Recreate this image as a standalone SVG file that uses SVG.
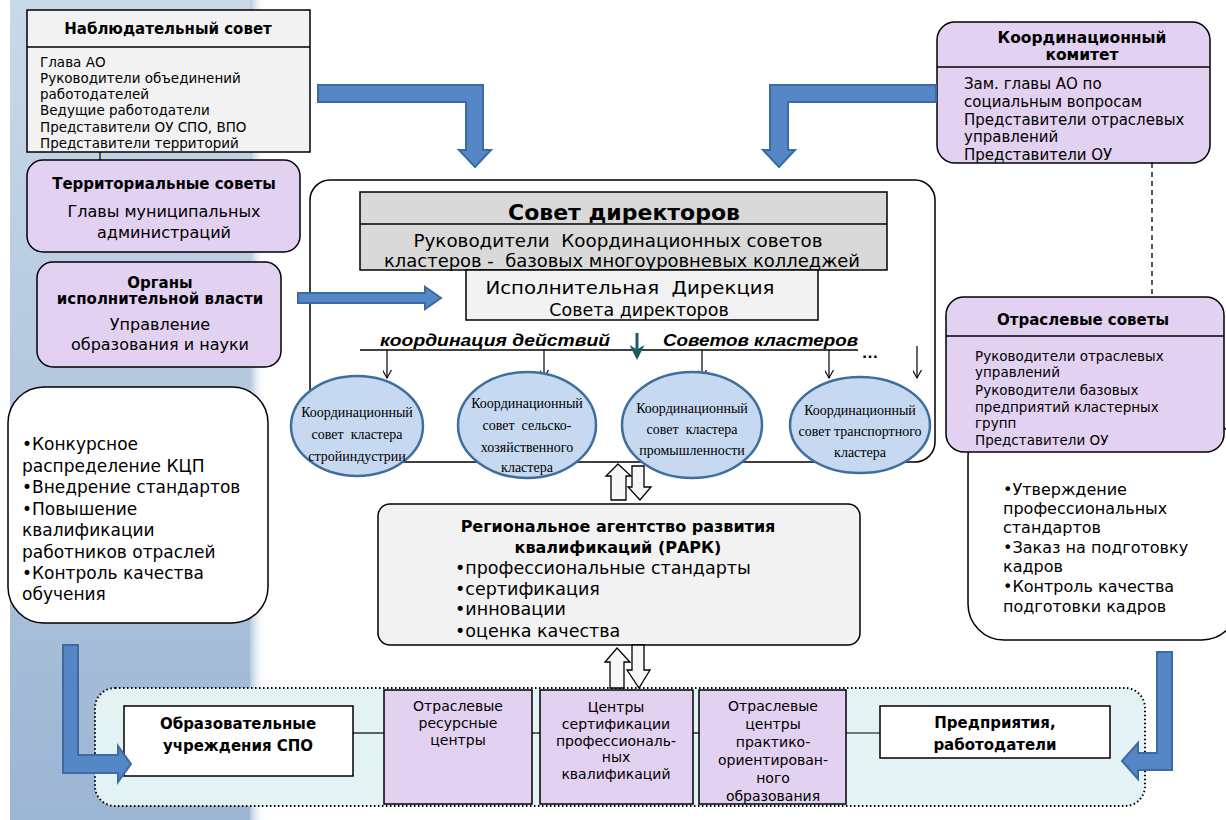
<svg xmlns="http://www.w3.org/2000/svg" width="1226" height="820" viewBox="0 0 1226 820">
<defs>
  <linearGradient id="bg" x1="0" y1="0" x2="0" y2="1">
    <stop offset="0" stop-color="#cad9e9"/>
    <stop offset="1" stop-color="#9cb5d3"/>
  </linearGradient>
  <linearGradient id="bgedge" x1="0" y1="0" x2="1" y2="0">
    <stop offset="0" stop-color="#b4c8de"/>
    <stop offset="1" stop-color="#ffffff" stop-opacity="0"/>
  </linearGradient>
  <marker id="ah" viewBox="0 0 10 10" refX="9" refY="5" markerWidth="9" markerHeight="9" orient="auto" markerUnits="userSpaceOnUse">
    <path d="M0,0 L9,5 L0,10" fill="none" stroke="#000" stroke-width="1.2"/>
  </marker>
  <marker id="ahT" viewBox="0 0 10 10" refX="8" refY="5" markerWidth="5" markerHeight="5" orient="auto">
    <path d="M0,0 L10,5 L0,10 L3,5 Z" fill="#215968"/>
  </marker>
</defs>
<style>
  text{font-family:"DejaVu Sans","Liberation Sans",sans-serif;fill:#000}
  .t{font-size:15px;font-weight:bold;text-anchor:middle}
  .s{font-size:13.5px}
  .m{font-size:16px}
  .l{font-size:17.5px}
  .ll{font-size:17px}
  .c{text-anchor:middle}
  .b{font-size:14px;text-anchor:middle}
  .it{font-family:"Liberation Sans",Arial,sans-serif;font-size:17px;font-weight:bold;font-style:italic}
  .ov{font-family:"Liberation Serif","Times New Roman",serif;font-size:14px;text-anchor:middle}
  .box{stroke:#000;stroke-width:1.5}
  .purple{fill:#e3d1f1}
  .gray{fill:#f2f2f2}
  .blue{fill:#5587c6;stroke:#3b6aa5;stroke-width:2}
  .hollow{fill:#f7f7f7;stroke:#000;stroke-width:1.3}
  .oval{fill:#c6d9f1;stroke:#3f6e9e;stroke-width:2.5}
  .thin{stroke:#000;stroke-width:1.2;fill:none}
</style>

<!-- background panel -->
<rect x="10" y="0" width="240" height="820" fill="url(#bg)"/>
<rect x="250" y="0" width="16" height="820" fill="url(#bgedge)"/>

<g id="nablyud">
  <rect class="box gray" x="27" y="10" width="283" height="142"/>
  <line x1="27" y1="47" x2="310" y2="47" stroke="#000" stroke-width="1.5"/>
  <text class="t" x="168" y="34">Наблюдательный совет</text>
  <text class="s" x="40" y="67">Глава АО</text>
  <text class="s" x="40" y="83">Руководители объединений</text>
  <text class="s" x="40" y="99">работодателей</text>
  <text class="s" x="40" y="115">Ведущие работодатели</text>
  <text class="s" x="40" y="132">Представители ОУ СПО, ВПО</text>
  <text class="s" x="40" y="148">Представители территорий</text>
</g>

<g id="territ">
  <rect class="box purple" x="27" y="160" width="273" height="92" rx="16" stroke-width="2"/>
  <text class="t" x="164" y="189">Территориальные советы</text>
  <text class="m c" x="164" y="217">Главы муниципальных</text>
  <text class="m c" x="164" y="238">администраций</text>
</g>

<g id="organy">
  <rect class="box purple" x="37" y="262" width="244" height="105" rx="16" stroke-width="2"/>
  <text class="t" x="160" y="288">Органы</text>
  <text class="t" x="160" y="304">исполнительной власти</text>
  <text class="m c" x="160" y="330">Управление</text>
  <text class="m c" x="160" y="350">образования и науки</text>
</g>

<g id="leftlist">
  <rect class="box" fill="#fff" x="8" y="387" width="260" height="236" rx="36"/>
  <text class="ll" x="22" y="450">•Конкурсное</text>
  <text class="ll" x="22" y="472">распределение КЦП</text>
  <text class="ll" x="22" y="493">•Внедрение стандартов</text>
  <text class="ll" x="22" y="515">•Повышение</text>
  <text class="ll" x="22" y="536">квалификации</text>
  <text class="ll" x="22" y="558">работников отраслей</text>
  <text class="ll" x="22" y="579">•Контроль качества</text>
  <text class="ll" x="22" y="600">обучения</text>
</g>

<g id="container">
  <rect class="box" fill="#fff" x="310" y="180" width="625" height="282" rx="20"/>
</g>

<g id="sovet">
  <rect class="box" fill="#d9d9d9" x="360" y="192" width="527" height="78"/>
  <line x1="360" y1="224" x2="887" y2="224" stroke="#000" stroke-width="1.5"/>
  <text x="624" y="220" style="font-size:22px;font-weight:bold;text-anchor:middle">Совет директоров</text>
  <text class="l c" x="618" y="247" xml:space="preserve" textLength="409" lengthAdjust="spacingAndGlyphs">Руководители  Координационных советов</text>
  <text class="l c" x="622" y="267" xml:space="preserve" textLength="476" lengthAdjust="spacingAndGlyphs">кластеров -  базовых многоуровневых колледжей</text>
</g>

<g id="direkcia">
  <rect class="box gray" x="466" y="270" width="352" height="50"/>
  <text class="l c" x="630" y="294" xml:space="preserve" textLength="289" lengthAdjust="spacingAndGlyphs">Исполнительная  Дирекция</text>
  <text class="l c" x="639" y="316">Совета директоров</text>
</g>

<g id="coord">
  <text class="it" x="380" y="346" textLength="230" lengthAdjust="spacingAndGlyphs">координация действий</text>
  <text class="it" x="663" y="346" textLength="195" lengthAdjust="spacingAndGlyphs">Советов кластеров</text>
  <text x="870" y="358" style="font-family:'Liberation Sans',Arial,sans-serif;font-size:17px;font-weight:bold;text-anchor:middle">…</text>
  <line x1="360" y1="350" x2="858" y2="350" stroke="#000" stroke-width="1.3"/>
  <line x1="637" y1="333" x2="637" y2="357" stroke="#215968" stroke-width="3" marker-end="url(#ahT)"/>
  <line class="thin" x1="387" y1="350" x2="387" y2="378" marker-end="url(#ah)"/>
  <line class="thin" x1="544" y1="350" x2="544" y2="378" marker-end="url(#ah)"/>
  <line class="thin" x1="702" y1="350" x2="702" y2="378" marker-end="url(#ah)"/>
  <line class="thin" x1="829" y1="350" x2="829" y2="378" marker-end="url(#ah)"/>
  <line class="thin" x1="917" y1="346" x2="917" y2="378" marker-end="url(#ah)"/>
</g>

<g id="oval1">
  <ellipse class="oval" cx="357" cy="426" rx="66" ry="50"/>
  <text class="ov" x="357" y="417">Координационный</text>
  <text class="ov" x="357" y="439" xml:space="preserve">совет  кластера</text>
  <text class="ov" x="357" y="461">стройиндустрии</text>
</g>
<g id="oval2">
  <ellipse class="oval" cx="527" cy="425" rx="69" ry="53"/>
  <text class="ov" x="527" y="408">Координационный</text>
  <text class="ov" x="527" y="430" xml:space="preserve">совет  сельско-</text>
  <text class="ov" x="527" y="452">хозяйственного</text>
  <text class="ov" x="527" y="472">кластера</text>
</g>
<g id="oval3">
  <ellipse class="oval" cx="692" cy="425" rx="70" ry="53"/>
  <text class="ov" x="692" y="413">Координационный</text>
  <text class="ov" x="692" y="434" xml:space="preserve">совет  кластера</text>
  <text class="ov" x="692" y="455">промышленности</text>
</g>
<g id="oval4">
  <ellipse class="oval" cx="860" cy="425" rx="70" ry="48"/>
  <text class="ov" x="860" y="415">Координационный</text>
  <text class="ov" x="860" y="436">совет транспортного</text>
  <text class="ov" x="860" y="457">кластера</text>
</g>

<g id="rark">
  <rect class="box gray" x="378" y="504" width="482" height="141" rx="12"/>
  <text class="t" x="618" y="532" style="font-size:16px">Региональное агентство развития</text>
  <text class="t" x="618" y="553" style="font-size:16px">квалификаций (РАРК)</text>
  <text class="l" x="455" y="574">•профессиональные стандарты</text>
  <text class="l" x="455" y="595">•сертификация</text>
  <text class="l" x="455" y="615">•инновации</text>
  <text class="l" x="455" y="637">•оценка качества</text>
</g>

<g id="komitet">
  <rect class="box purple" x="937" y="22" width="273" height="141" rx="18" stroke-width="2"/>
  <line x1="937" y1="67" x2="1210" y2="67" stroke="#000" stroke-width="1.5"/>
  <text class="t" x="1082" y="43" style="font-size:15.5px">Координационный</text>
  <text class="t" x="1082" y="60" style="font-size:15.5px">комитет</text>
  <text x="964" y="89" style="font-size:15px">Зам. главы АО по</text>
  <text x="964" y="107" style="font-size:15px">социальным вопросам</text>
  <text x="964" y="125" style="font-size:15px">Представители отраслевых</text>
  <text x="964" y="142" style="font-size:15px">управлений</text>
  <text x="964" y="160" style="font-size:15px">Представители ОУ</text>
</g>

<g id="rightlist">
  <rect class="box" fill="#fff" x="968" y="420" width="270" height="220" rx="36"/>
  <text class="m" x="1003" y="495">•Утверждение</text>
  <text class="m" x="1003" y="514">профессиональных</text>
  <text class="m" x="1003" y="533">стандартов</text>
  <text class="m" x="1003" y="553">•Заказ на подготовку</text>
  <text class="m" x="1003" y="572">кадров</text>
  <text class="m" x="1003" y="592">•Контроль качества</text>
  <text class="m" x="1003" y="612">подготовки кадров</text>
</g>

<g id="otrsovety">
  <rect class="box purple" x="946" y="297" width="278" height="155" rx="18" stroke-width="2"/>
  <line x1="946" y1="336" x2="1224" y2="336" stroke="#000" stroke-width="1.5"/>
  <text class="t" x="1083" y="325">Отраслевые советы</text>
  <text class="s" x="975" y="361">Руководители отраслевых</text>
  <text class="s" x="975" y="377">управлений</text>
  <text class="s" x="975" y="395">Руководители базовых</text>
  <text class="s" x="975" y="412">предприятий кластерных</text>
  <text class="s" x="975" y="428">групп</text>
  <text class="s" x="975" y="445">Представители ОУ</text>
</g>

<g id="bottom">
  <rect x="95" y="688" width="1050" height="118" rx="20" fill="#e3f3f3" stroke="#000" stroke-width="2" stroke-dasharray="1.5,2.5"/>
  <line class="thin" x1="353" y1="733" x2="384" y2="733"/>
  <line class="thin" x1="532" y1="733" x2="540" y2="733"/>
  <line class="thin" x1="693" y1="733" x2="699" y2="733"/>
  <line class="thin" x1="846" y1="733" x2="880" y2="733"/>
</g>

<g id="ou_spo">
  <rect class="box" fill="#fff" x="124" y="706" width="229" height="70"/>
  <text class="t" x="238" y="729">Образовательные</text>
  <text class="t" x="238" y="751">учреждения СПО</text>
</g>
<g id="resurs">
  <rect class="box purple" x="384" y="690" width="148" height="114"/>
  <text class="b" x="458" y="711">Отраслевые</text>
  <text class="b" x="458" y="728">ресурсные</text>
  <text class="b" x="458" y="745">центры</text>
</g>
<g id="sertif">
  <rect class="box purple" x="540" y="690" width="153" height="114"/>
  <text class="b" x="616" y="712">Центры</text>
  <text class="b" x="616" y="729">сертификации</text>
  <text class="b" x="616" y="746">профессиональ-</text>
  <text class="b" x="616" y="762">ных</text>
  <text class="b" x="616" y="779">квалификаций</text>
</g>
<g id="praktik">
  <rect class="box purple" x="699" y="690" width="147" height="114"/>
  <text class="b" x="773" y="711">Отраслевые</text>
  <text class="b" x="773" y="729">центры</text>
  <text class="b" x="773" y="747">практико-</text>
  <text class="b" x="773" y="765">ориентирован-</text>
  <text class="b" x="773" y="783">ного</text>
  <text class="b" x="773" y="801">образования</text>
</g>
<g id="predpr">
  <rect class="box" fill="#fff" x="880" y="706" width="230" height="52"/>
  <text class="t" x="995" y="728">Предприятия,</text>
  <text class="t" x="995" y="750">работодатели</text>
</g>

<g id="connectors">
  <path class="blue" d="M318,85 H483 V150 H491 L475,167 L459,150 H466 V102 H318 Z"/>
  <path class="blue" d="M936,85 H770 V150 H763 L779,167 L795,150 H788 V102 H936 Z"/>
  <path class="blue" d="M298,293 H425 V287 L441,298 L425,309 V303 H298 Z"/>
  <path class="blue" d="M63,645 H78 V755 H118 V746 L131,764 L118,782 V773 H63 Z"/>
  <path class="blue" d="M1157,652 H1172 V770 H1138 V779 L1122,761 L1138,743 V753 H1157 Z"/>
  <line class="thin" x1="100" y1="152" x2="100" y2="160"/>
  <line x1="1152" y1="163" x2="1152" y2="297" stroke="#000" stroke-width="1.3" stroke-dasharray="5,4"/>
  <path class="hollow" d="M618,464 L631,476 H626 V500 H611 V476 H606 Z"/>
  <path class="hollow" d="M632,466 H644 V487 H651 L640,500 L628,487 H632 Z"/>
  <path class="hollow" d="M617,648 L630,662 H624 V688 H610 V662 H605 Z"/>
  <path class="hollow" d="M632,645 H644 V670 H650 L639,688 L627,670 H632 Z"/>
</g>
</svg>
